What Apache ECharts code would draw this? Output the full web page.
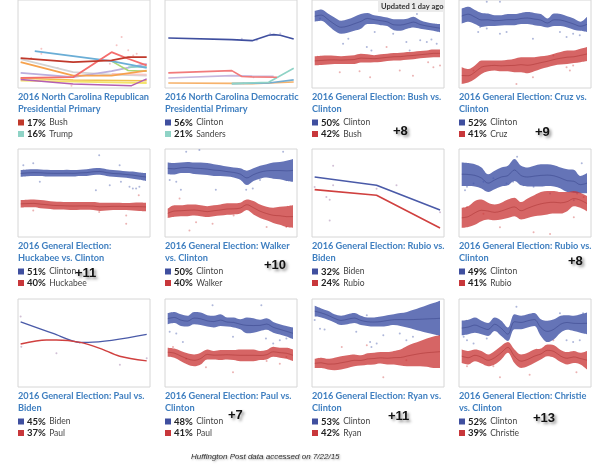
<!DOCTYPE html>
<html><head><meta charset="utf-8">
<script src="https://cdn.jsdelivr.net/npm/echarts@6/dist/echarts.min.js"></script>
<style>html,body{margin:0;padding:0;background:#fff}#c{width:600px;height:473px}</style>
</head><body><div id="c"></div>
<script>
// ---------- Titles / legends ----------
const titles = [
  ['2016 North Carolina Republican','Presidential Primary'],
  ['2016 North Carolina Democratic','Presidential Primary'],
  ['2016 General Election: Bush vs.','Clinton'],
  ['2016 General Election: Cruz vs.','Clinton'],
  ['2016 General Election:','Huckabee vs. Clinton'],
  ['2016 General Election: Walker','vs. Clinton'],
  ['2016 General Election: Rubio vs.','Biden'],
  ['2016 General Election: Rubio vs.','Clinton'],
  ['2016 General Election: Paul vs.','Biden'],
  ['2016 General Election: Paul vs.','Clinton'],
  ['2016 General Election: Ryan vs.','Clinton'],
  ['2016 General Election: Christie','vs. Clinton']
];
const legendPct = [['17%','16%'],['56%','21%'],['50%','42%'],['52%','41%'],['51%','40%'],['50%','40%'],['32%','24%'],['49%','41%'],['45%','37%'],['48%','41%'],['53%','42%'],['52%','39%']];
const legendName = [['Bush','Trump'],['Clinton','Sanders'],['Clinton','Bush'],['Clinton','Cruz'],['Clinton','Huckabee'],['Clinton','Walker'],['Biden','Rubio'],['Clinton','Rubio'],['Biden','Paul'],['Clinton','Paul'],['Clinton','Ryan'],['Clinton','Christie']];
const marginPanels = [2,3,4,5,7,9,10,11];
const marginText = ['+8','+9','+11','+10','+8','+7','+11','+13'];

// ---------- Panel 1: NC Republican primary (x 0-100, y %) ----------
const p1Bush = [[2,18.0],[41.8,15.6],[70.9,16.6],[83.5,18.6],[97.5,18.6]];
const p1Pink = [[2,6.1],[41.8,6.5],[70.9,21.6],[83.5,17.6],[97.5,13.6]];
const p1LightBlue = [[12.7,22.2],[41.8,19.2],[70.9,16.2],[97.5,12.1]];
const p1Orange = [[2,15.6],[41.8,7.5],[70.9,7.5],[97.5,10.5]];
const p1Gray = [[2,17.4],[41.8,9.5],[70.9,8.1],[97.5,7.5]];
const p1Lavender = [[2,9.1],[41.8,6.5],[70.9,10.1],[97.5,14.6]];
const p1Green = [[70.9,16.2],[83.5,10.5],[97.5,10.1]];
const p1Yellow = [[2,4.4],[41.8,3.8],[97.5,3.0]];
const p1Gold = [[2,5.8],[41.8,4.8],[97.5,4.3]];
const p1Purple = [[2,5.1],[41.8,2.4],[86,1.4],[97.5,5.5]];
const p1LightPink = [[70.9,8.5],[97.5,8.1]];
const p1Trump = [[83.5,12.5],[97.5,12.9]];
const p1Dots = [[17.7,23.7],[17.7,20.6],[78.5,30.7],[74.7,25.7],[83.5,22.7],[87.3,19.6],[89.9,20.6],[40.5,1.4],[69.6,14.6],[10,18],[30,12]];

// ---------- Panel 2: NC Democratic primary ----------
const p2Clinton = [[2.5,56.9],[50.6,55.0],[66,53.8],[78.5,59.9],[82.3,60.7],[87.3,59.9],[97.5,55.7]];
const p2Salmon = [[2.5,17.2],[50.6,19.8],[58.2,13.0],[66,12.6],[84.8,12.2]];
const p2Lavender = [[2.5,11.4],[50.6,14.1],[66,13.7],[82.3,13.4]];
const p2Orange = [[2.5,5.7],[50.6,5.3],[66,5.0],[97.5,6.9]];
const p2Sanders = [[50.6,5.0],[78.5,6.5],[97.5,22.5]];
const p2LightBlue = [[50.6,5.0],[78.5,5.7],[97.5,9.2]];
const p2Dots = [[58.2,56.1],[69.6,54.2],[79.7,61.8],[87.3,61.8],[67.1,12.2],[59.5,5.3]];

// ---------- Band panels (20 samples each, y %) ----------
const p3ClintonHi = [56.3,56.8,55.4,54.0,52.9,53.4,54.3,55.2,55.6,54.8,54.5,54.0,53.4,53.4,53.6,54.3,53.1,52.4,52.0,51.8];
const p3ClintonLo = [52.6,52.9,51.4,49.5,48.5,48.8,49.5,50.2,51.8,51.8,51.4,51.1,49.7,49.5,50.2,50.6,50.2,49.9,49.5,49.0];
const p3BushHi = [40.8,41.0,41.1,41.0,40.8,41.0,41.2,41.7,41.5,41.2,41.5,41.7,41.9,42.0,42.3,42.4,42.6,42.8,43.1,43.1];
const p3BushLo = [37.7,37.8,38.0,38.2,38.2,38.2,38.2,38.7,38.7,38.8,38.9,39.2,39.4,39.4,39.6,39.8,40.1,40.3,40.5,40.5];
const p3BlueDots = [[0.8,53.7],[4.3,45.1],[5.1,46.8],[7.9,44.0],[8.6,42.8],[9.1,49.1],[11.9,48.5],[13.9,45.7],[14.4,42.8],[16,46.3],[17,45.7],[17.7,46.5],[18.5,45.1],[15.5,55.2]];
const p3RedDots = [[3.8,35.4],[8.4,33.7],[14.9,34.2],[17.2,38.8],[18,37.1],[19,37.7],[12.9,36.0],[6.8,35.7],[10.9,44]];

const p4ClintonHi = [57.1,57.7,56.6,55.6,55.4,54.8,54.8,55.2,55.2,55.6,55.9,55.6,55.2,53.7,55.4,55.2,54.5,53.7,52.6,54.3];
const p4ClintonLo = [52.0,52.6,51.8,50.8,51.1,51.1,51.3,51.4,51.4,51.8,51.8,51.4,51.1,50.6,51.1,51.1,50.6,49.9,49.5,49.1];
const p4CruzHi = [37.1,36.5,37.7,39.4,39.4,39.4,39.4,39.6,40.0,40.5,40.5,40.5,40.8,41.1,41.7,42.3,42.8,42.8,43.4,44.0];
const p4CruzLo = [31.4,31.9,33.1,34.8,35.7,36.0,35.7,35.7,35.4,35.4,35.0,35.7,36.5,37.1,37.7,38.0,38.2,38.5,38.8,39.2];
const p4BlueDots = [[2.8,50.8],[2.5,49.1],[3.8,50.3],[5.8,48.5],[6.8,49.1],[10.8,46.8],[14.9,49.1],[15.9,47.4],[16.9,48.5],[17.9,48.0],[3.8,59.4],[5.8,59.4]];
const p4RedDots = [[8.3,31.4],[1.8,36.0],[15.9,37.1],[16.4,36.0],[16.9,37.7],[10.8,33.7],[13.9,41.1]];

const p5ClintonHi = [52.8,53.0,53.1,53.0,52.9,52.8,52.8,52.9,52.8,52.9,53.1,53.4,53.5,53.1,52.8,52.7,52.4,52.3,52.0,51.8];
const p5ClintonLo = [50.5,50.7,50.8,50.8,50.6,50.6,50.6,50.6,50.6,50.8,50.8,51.1,51.2,50.8,50.5,50.4,50.2,49.9,49.5,49.1];
const p5HuckHi = [42.6,42.7,42.8,42.6,42.4,42.1,42.0,41.9,41.9,41.9,41.9,41.9,41.7,41.7,41.7,41.7,41.6,41.7,41.8,41.7];
const p5HuckLo = [40.0,40.1,40.1,39.8,39.6,39.4,39.4,39.3,39.2,39.3,39.3,39.2,38.9,39.0,39.2,39.2,39.2,39.0,38.9,38.8];
const p5BlueDots = [[0.4,54.5],[1.9,55.1],[2.9,48.8],[11.4,45.9],[11.9,57.9],[15,54.5],[16.5,47.1],[17,46.5],[17.5,46.5],[18,47.1],[13.5,47.6],[15.2,48.8]];
const p5RedDots = [[16,34.5],[16,37.3],[1.9,39.0],[11.9,38.5],[17.9,44.2]];

const p6ClintonHi = [55.4,55.2,55.4,55.6,55.4,55.4,55.2,54.8,54.5,54.0,53.7,53.4,52.6,53.4,54.3,54.8,55.4,55.6,56.0,56.6];
const p6ClintonLo = [51.4,51.3,51.8,51.8,51.5,51.3,51.1,50.8,50.8,50.6,50.3,49.5,47.7,49.1,49.9,50.3,49.9,49.7,49.1,48.8];
const p6WalkerHi = [39.6,40.8,40.8,41.1,41.1,40.8,40.5,40.8,41.1,41.5,41.5,41.7,42.8,42.3,41.1,40.3,40.0,40.3,40.5,40.8];
const p6WalkerLo = [36.5,36.9,37.1,37.1,37.3,37.1,36.8,37.1,37.3,37.6,37.7,38.0,39.2,37.7,36.5,35.7,34.8,34.2,33.4,33.1];
const p6BlueDots = [[0.3,49.4],[1.3,48.8],[2,46.1],[2.8,59.1],[4.8,59.7],[7.3,46.1],[11.9,46.1],[12.9,46.5],[17.5,59.1],[14,49.4]];
const p6RedDots = [[1.8,43.1],[3.3,32.2],[4.3,35.0],[6.8,34.5],[15,33.4],[18,33.4],[10,37.3]];

// ---------- Panel 7: Rubio vs Biden (x 0-100) ----------
const p7Biden = [[2,46.1],[48.9,42.4],[97,31.5]];
const p7Rubio = [[2,40.5],[48.9,38.0],[97,23.5]];
const p7Dots = [[16,51.1],[2,41.7],[10.9,37.2],[13.4,36.0],[16,42.4],[64,42.4],[48.9,40.9],[13.4,26.8],[97,30.5]];

const p8ClintonHi = [55.4,55.2,54.8,53.7,51.4,52.6,53.7,54.3,56.6,54.3,53.7,54.3,54.8,54.8,54.5,53.7,53.1,52.9,50.8,51.8];
const p8ClintonLo = [47.4,47.4,47.2,46.5,45.3,46.3,47.2,47.6,49.1,47.6,47.2,47.2,47.2,47.4,47.2,46.5,45.3,45.1,44.9,44.9];
const p8RubioHi = [40.0,40.5,42.3,42.8,41.7,41.1,41.7,42.8,43.4,41.9,43.1,44.2,45.3,45.7,45.7,45.3,45.3,45.7,45.1,44.0];
const p8RubioLo = [33.1,33.4,34.2,35.4,36.0,35.7,36.0,36.5,37.1,36.0,36.5,37.1,37.3,37.7,38.0,38.0,38.8,40.5,40.0,38.8];
const p8BlueDots = [[0.8,47.1],[0.5,45.9],[1.8,48.2],[3.3,48.8],[4.8,50.0],[6.8,48.2],[7.8,48.8],[8.4,57.4],[13.4,44.8],[17,42.5],[18.2,55.1],[17.5,44.8],[10.9,47.1]];
const p8RedDots = [[0.8,40.2],[3.3,37.9],[10.9,31.6],[13.4,31.0],[17,36.7],[18.5,43.6],[5.8,33.3]];

// ---------- Panel 9: Paul vs Biden (x 0-100) ----------
const p9Biden = [[2,48.6],[26.6,45.1],[47,42.4],[53.2,42.4],[97.5,44.8]];
const p9Paul = [[2,41.9],[21.5,43.1],[29,43.1],[47,42.4],[62,40.6],[77,38.2],[97.5,36.8]];
const p9Dots = [[2,50.2],[2.5,41.1],[29.1,39.1],[77.2,35.6],[97.5,37.6],[46.8,42.2]];

const p10ClintonHi = [55.2,55.6,54.8,54.3,55.6,55.4,54.5,54.3,54.8,53.7,53.7,53.1,53.7,53.4,52.9,53.4,52.2,51.4,50.8,50.3];
const p10ClintonLo = [51.4,51.8,50.8,50.6,51.4,51.1,50.6,50.3,50.8,50.6,50.3,49.7,48.3,48.5,49.1,49.5,48.5,47.9,47.2,46.3];
const p10PaulHi = [43.4,43.1,42.3,41.5,41.1,41.7,42.8,42.3,42.6,42.6,42.6,42.8,42.8,42.8,42.3,42.6,43.7,43.4,43.4,42.8];
const p10PaulLo = [40.3,40.0,38.8,37.7,37.1,37.7,39.4,39.4,39.2,39.4,39.2,38.8,38.8,38.8,39.2,39.4,40.3,40.0,39.6,38.8];
const p10BlueDots = [[0.3,48.8],[1.3,48.2],[2.3,45.3],[6.8,57.9],[9.9,47.1],[14.9,46.5],[16,44.8],[17,45.9],[18,46.5],[14.2,57.9]];
const p10RedDots = [[0.8,43.6],[2.8,39.6],[9.9,35.0],[5.8,36.7],[15,38.9],[17,37.9],[18,40.2]];

const p11ClintonHi = [57.7,56.8,56.0,54.8,54.3,54.8,55.2,54.3,53.7,53.7,54.0,54.5,54.8,55.2,55.6,56.3,57.1,57.9,58.6,59.4];
const p11ClintonLo = [54.0,53.7,52.9,52.0,51.1,51.4,51.8,51.1,50.8,50.6,50.6,50.8,51.1,50.8,50.3,49.7,49.1,48.5,48.0,47.4];
const p11RyanHi = [39.6,40.0,39.6,40.0,40.5,40.8,41.1,40.8,41.5,41.7,41.9,41.9,42.3,42.8,44.0,44.9,45.7,46.5,47.2,47.6];
const p11RyanLo = [36.5,36.5,36.0,35.7,36.0,36.5,37.1,37.3,37.6,37.7,38.0,37.7,37.7,37.3,37.1,37.1,37.1,36.9,36.5,36.5];
const p11BlueDots = [[0,52.8],[0.8,49.9],[1.5,49.6],[6.3,48.8],[7.9,54.5],[8.4,45.3],[8.6,43.6],[9.4,44.8],[12.9,48.2],[13.9,45.9],[14.9,47.1],[10.4,47.6]];
const p11RedDots = [[4.1,43.6],[10.4,33.3],[7.9,44.2],[13.9,39.1]];

const p12ClintonHi = [52.6,52.9,53.7,52.6,51.8,53.7,52.6,50.3,54.8,54.3,54.8,55.2,53.1,52.6,53.1,54.3,54.5,54.3,54.8,55.4];
const p12ClintonLo = [47.6,48.0,48.5,48.0,47.4,49.1,47.4,45.7,49.7,49.7,50.3,50.8,47.4,45.3,46.3,48.5,49.5,49.1,48.5,48.0];
const p12ChristieHi = [42.8,42.3,42.8,42.3,41.1,42.3,44.0,45.3,42.8,41.1,41.7,42.8,43.1,44.5,44.2,42.6,41.9,42.3,41.7,42.3];
const p12ChristieLo = [38.2,37.7,38.8,38.0,37.1,37.7,39.4,41.7,38.2,36.5,37.1,38.2,39.4,40.5,40.0,38.5,37.7,38.2,37.7,36.0];
const p12BlueDots = [[0.3,47.1],[0.8,45.9],[1.8,44.8],[3.8,46.5],[8.3,57.4],[14.9,55.1],[15.9,45.9],[16.9,45.3],[17.9,45.9],[18.4,55.1]];
const p12RedDots = [[0.8,37.1],[4.8,37.1],[10.3,34.2],[13.9,45.9],[17.4,35.0],[5.8,33.3]];

// ---------- Build ----------
const BLUE = '#3f4f9f', RED = '#c8373b', TEAL = '#8fd3c6';
const COLS = [18,165,312,459], ROWS = [0,149,299], W = 132, H = 88;
const grids = [], xAxes = [], yAxes = [], series = [], graphics = [];
function addGrid(left, top, width, height, show) {
  grids.push({left: left, top: top, width: width, height: height, show: show, borderColor: '#d6d6d6', borderWidth: 1,
    backgroundColor: show ? '#fff' : 'transparent'});
  return grids.length - 1;
}
function addX(g, cfg) { xAxes.push(Object.assign({gridIndex: g, show: false}, cfg)); return xAxes.length - 1; }
function addY(g, yr) { yAxes.push({type: 'value', gridIndex: g, min: yr[0], max: yr[1], show: false}); return yAxes.length - 1; }

// box grids (borders) for all 12 panels
const boxAxes = [];
for (let i = 0; i < 12; i++) {
  const g = addGrid(COLS[i % 4], ROWS[Math.floor(i / 4)], W, H, true);
  boxAxes.push([g]);
}
function line(ax, data, color, width, smooth) {
  series.push({type: 'line', xAxisIndex: ax[0], yAxisIndex: ax[1], data: data, symbol: 'none', smooth: smooth || false, silent: true,
    lineStyle: {color: color, width: width || 1.6}, z: 3});
}
function dots(ax, data, color) {
  series.push({type: 'scatter', xAxisIndex: ax[0], yAxisIndex: ax[1], data: data, symbolSize: 2, silent: true, itemStyle: {color: color}, z: 1});
}
let sk = 0;
function band(cx, y, hi, lo, fill, mid) {
  const key = 's' + (sk++);
  series.push({type: 'line', xAxisIndex: cx, yAxisIndex: y, stack: key, data: lo.slice(), symbol: 'none', smooth: 0.35, silent: true, lineStyle: {opacity: 0}, z: 2});
  series.push({type: 'line', xAxisIndex: cx, yAxisIndex: y, stack: key, data: hi.map((v, k) => +(v - lo[k]).toFixed(2)), symbol: 'none', smooth: 0.35, silent: true,
    lineStyle: {opacity: 0}, areaStyle: {color: fill, opacity: 1}, z: 2});
  series.push({type: 'line', xAxisIndex: cx, yAxisIndex: y, data: hi.map((v, k) => +((v + lo[k]) / 2).toFixed(2)), symbol: 'none', smooth: 0.35, silent: true,
    lineStyle: {color: mid, width: 0.7}, z: 3});
}
const BF = 'rgba(63,81,165,0.8)', RF = 'rgba(200,50,50,0.75)', BM = 'rgba(40,50,120,0.55)', RM = 'rgba(150,30,30,0.5)';
const BD = 'rgba(70,90,170,0.55)', RD = 'rgba(210,80,80,0.55)';
const BY = [30, 60];

function linePanel(i, yr) {
  const g = boxAxes[i][0];
  const x = addX(g, {type: 'value', min: 0, max: 100});
  const y = addY(g, yr);
  return [x, y];
}

// panel 0
let ax = linePanel(0, [0, 53]);
dots(ax, p1Dots, 'rgba(235,120,120,0.55)');
line(ax, p1Gray, '#d4d4d4', 1.8);
line(ax, p1Yellow, '#f4e46a', 1.8);
line(ax, p1Gold, '#f2c14e', 1.5);
line(ax, p1Purple, '#b45fb4', 1.5);
line(ax, p1Lavender, '#bcaedd', 1.8);
line(ax, p1LightPink, '#f7c6c6', 1.8);
line(ax, p1Green, '#a9d774', 1.6);
line(ax, p1Trump, TEAL, 1.6);
line(ax, p1Orange, '#f6a24d', 1.8);
line(ax, p1LightBlue, '#6aaed6', 1.8);
line(ax, p1Pink, '#f46d6d', 1.8);
line(ax, p1Bush, '#c0392b', 1.8);
// panel 1
ax = linePanel(1, [0, 100]);
dots(ax, p2Dots, 'rgba(140,140,200,0.55)');
line(ax, p2Orange, '#f6b26b', 1.6);
line(ax, p2LightBlue, '#74add1', 1.6);
line(ax, p2Sanders, TEAL, 1.6);
line(ax, p2Lavender, '#c6b7de', 1.6);
line(ax, p2Salmon, '#f27b7b', 1.6);
line(ax, p2Clinton, '#3f4f9f', 1.6);
// panel 6
ax = linePanel(6, [19.5, 58.5]);
dots(ax, p7Dots, 'rgba(150,110,160,0.55)');
line(ax, p7Biden, '#4a5aa8', 1.6);
line(ax, p7Rubio, '#d0403f', 1.6);
// panel 8
ax = linePanel(8, [28.9, 55.5]);
dots(ax, p9Dots, 'rgba(150,110,160,0.55)');
line(ax, p9Biden, '#4a5aa8', 1.4, 0.3);
line(ax, p9Paul, '#d0403f', 1.4, 0.3);

// band panels: inner plotting grid inset from the box
const bandSets = {
  2: [p3ClintonHi, p3ClintonLo, p3BushHi, p3BushLo, p3BlueDots, p3RedDots],
  3: [p4ClintonHi, p4ClintonLo, p4CruzHi, p4CruzLo, p4BlueDots, p4RedDots],
  4: [p5ClintonHi, p5ClintonLo, p5HuckHi, p5HuckLo, p5BlueDots, p5RedDots],
  5: [p6ClintonHi, p6ClintonLo, p6WalkerHi, p6WalkerLo, p6BlueDots, p6RedDots],
  7: [p8ClintonHi, p8ClintonLo, p8RubioHi, p8RubioLo, p8BlueDots, p8RedDots],
  9: [p10ClintonHi, p10ClintonLo, p10PaulHi, p10PaulLo, p10BlueDots, p10RedDots],
  10: [p11ClintonHi, p11ClintonLo, p11RyanHi, p11RyanLo, p11BlueDots, p11RedDots],
  11: [p12ClintonHi, p12ClintonLo, p12ChristieHi, p12ChristieLo, p12BlueDots, p12RedDots]
};
Object.keys(bandSets).forEach(function (key) {
  const i = +key, s = bandSets[key];
  addX(boxAxes[i][0], {type: 'value', min: 0, max: 1}); addY(boxAxes[i][0], [0, 1]);
  const g = addGrid(COLS[i % 4] + 2.7, ROWS[Math.floor(i / 4)], W - 6.7, H, false);
  const n = s[0].length;
  const cx = addX(g, {type: 'category', boundaryGap: false, data: s[0].map((_, k) => String(k))});
  const vx = addX(g, {type: 'value', min: 0, max: n - 1});
  const y = addY(g, BY);
  dots([vx, y], s[4], BD);
  dots([vx, y], s[5], RD);
  band(cx, y, s[0], s[1], BF, BM);
  band(cx, y, s[2], s[3], RF, RM);
});

// ---------- Text graphics ----------
const TITLE_FONT = 'bold 9.2px Lato';
for (let i = 0; i < 12; i++) {
  const x0 = COLS[i % 4], y0 = ROWS[Math.floor(i / 4)];
  graphics.push({type: 'text', x: x0, y: y0 + 97.5, style: {text: titles[i][0], font: TITLE_FONT, fill: '#3f7fc0', textVerticalAlign: 'middle'}});
  graphics.push({type: 'text', x: x0, y: y0 + 109, style: {text: titles[i][1], font: TITLE_FONT, fill: '#3f7fc0', textVerticalAlign: 'middle'}});
  const sq = i === 0 ? ['#c0392b', TEAL] : (i === 1 ? [BLUE, TEAL] : [BLUE, RED]);
  for (let j = 0; j < 2; j++) {
    const ly = y0 + 122.5 + j * 11.5;
    graphics.push({type: 'rect', shape: {x: x0, y: ly - 3, width: 6, height: 6}, style: {fill: sq[j]}});
    graphics.push({type: 'text', x: x0 + 9, y: ly, style: {text: '{b|' + legendPct[i][j] + '} {n|' + legendName[i][j] + '}', textVerticalAlign: 'middle',
      rich: {b: {font: 'bold 9.5px Lato', fill: '#222'}, n: {font: '8.5px Lato', fill: '#444'}}}});
  }
}
const MPOS = [[393,131],[535,132],[75,273],[264,265],[568,261],[228,415],[388,416],[533,418]];
marginPanels.forEach((p, k) => {
  graphics.push({type: 'text', x: MPOS[k][0], y: MPOS[k][1], style: {text: marginText[k], font: 'bold 13px "Liberation Sans"', fill: '#111', textVerticalAlign: 'middle',
    textShadowColor: 'rgba(0,0,0,0.45)', textShadowBlur: 3, textShadowOffsetX: 2, textShadowOffsetY: 2}});
});
graphics.push({type: 'rect', shape: {x: 378, y: 0, width: 66, height: 12}, style: {fill: '#ebebeb'}, z: 10});
graphics.push({type: 'text', x: 381, y: 6.5, z: 11, style: {text: 'Updated 1 day ago', font: 'bold 7.5px Lato', fill: '#333', textVerticalAlign: 'middle'}});
graphics.push({type: 'text', x: 191, y: 457, style: {text: 'Huffington Post data accessed on 7/22/15', font: 'italic 8px "Liberation Sans"', fill: '#333', textVerticalAlign: 'middle',
  textShadowColor: 'rgba(0,0,0,0.35)', textShadowBlur: 2, textShadowOffsetX: 1, textShadowOffsetY: 1}});

const chart = echarts.init(document.getElementById('c'));
chart.setOption({
  animation: false,
  backgroundColor: '#fff',
  grid: grids, xAxis: xAxes, yAxis: yAxes, series: series,
  graphic: {elements: graphics}
});
</script></body></html>
